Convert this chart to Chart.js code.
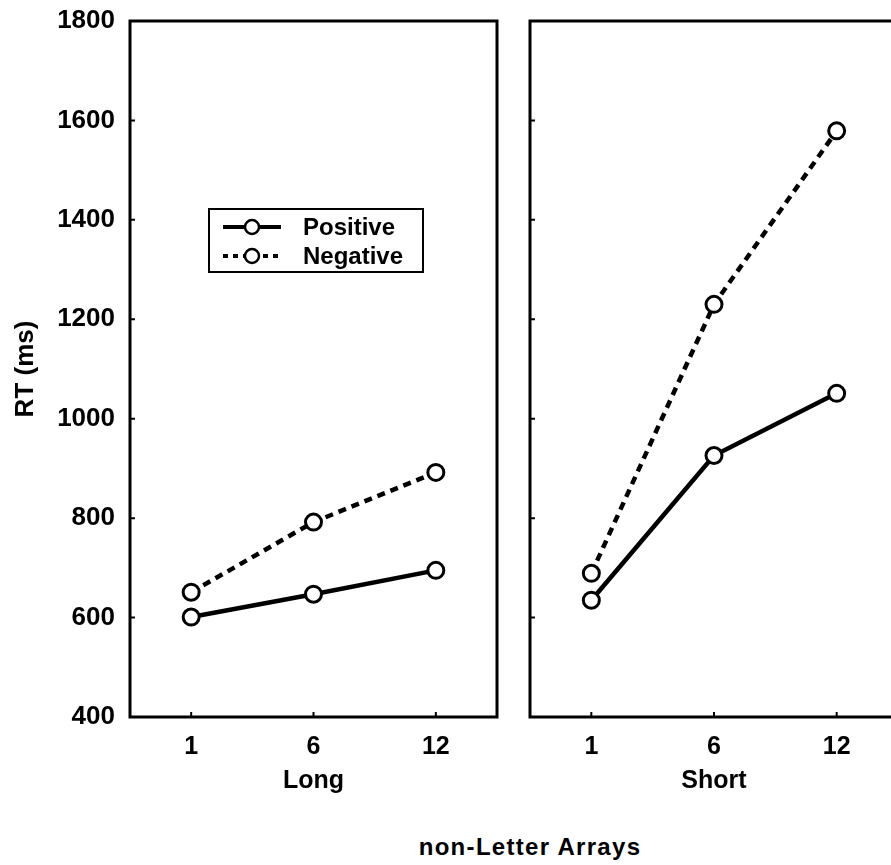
<!DOCTYPE html>
<html>
<head>
<meta charset="utf-8">
<script src="https://cdn.jsdelivr.net/npm/chart.js@4.4.1/dist/chart.umd.min.js"></script>
<style>
    html, body { margin: 0; padding: 0; background: #fff; overflow: hidden; }
    #wrap { position: relative; width: 891px; height: 865px; overflow: hidden; }
    #longCanvas { position: absolute; left: 0; top: 0; width: 500px; height: 796px; }
    #shortCanvas { position: absolute; left: 500px; top: 0; width: 400px; height: 796px; }
    #caption {
        position: absolute; left: 330px; top: 835px; width: 400px;
        text-align: center; font: bold 24px "Liberation Sans", Arial, sans-serif;
        line-height: 24px; letter-spacing: 1.3px; color: #000;
    }
</style>
</head>
<body>
<div id="wrap">
    <canvas id="longCanvas" width="500" height="796"></canvas>
    <canvas id="shortCanvas" width="400" height="796"></canvas>
    <div id="caption">non-Letter Arrays</div>
</div>
<script>
// values
const setSizes = ['1', '6', '12'];
const longPositive = [601, 647, 695];
const longNegative = [651, 792, 892];
const shortPositive = [635, 926, 1051];
const shortNegative = [689, 1230, 1579];
const rtMin = 400;
const rtMax = 1800;
const rtStep = 200;

const FONT = '"Liberation Sans", Arial, sans-serif';

// box round the plot area, with small inward tick marks
const panelFrame = {
    id: 'panelFrame',
    beforeDatasetsDraw(chart) {
        const { ctx, chartArea: a, scales } = chart;
        ctx.save();
        ctx.strokeStyle = '#000';
        ctx.lineWidth = 3;
        ctx.strokeRect(a.left, a.top, a.right - a.left, a.bottom - a.top);
        ctx.lineWidth = 2;
        ctx.beginPath();
        scales.x.ticks.forEach((t, i) => {
            const px = scales.x.getPixelForTick(i);
            ctx.moveTo(px, a.bottom);
            ctx.lineTo(px, a.bottom - 5);
        });
        scales.y.ticks.forEach((t) => {
            const py = scales.y.getPixelForValue(t.value);
            ctx.moveTo(a.left, py);
            ctx.lineTo(a.left + 5, py);
        });
        ctx.stroke();
        ctx.restore();
    }
};

// legend box drawn inside the left panel
const innerLegend = {
    id: 'innerLegend',
    afterDraw(chart) {
        const { ctx, chartArea: a } = chart;
        const x0 = a.left + 79, y0 = a.top + 188, w = 214, h = 63;
        ctx.save();
        ctx.strokeStyle = '#000';
        ctx.lineWidth = 2;
        ctx.strokeRect(x0, y0, w, h);
        chart.data.datasets.forEach((ds, i) => {
            const cy = y0 + 18 + i * 29;
            ctx.lineWidth = 4;
            ctx.setLineDash(ds.borderDash ? [5, 5] : []);
            ctx.beginPath();
            ctx.moveTo(x0 + 14, cy);
            ctx.lineTo(x0 + 72, cy);
            ctx.stroke();
            ctx.setLineDash([]);
            ctx.beginPath();
            ctx.arc(x0 + 43, cy, 7, 0, Math.PI * 2);
            ctx.fillStyle = '#fff';
            ctx.fill();
            ctx.lineWidth = 2.5;
            ctx.stroke();
            ctx.fillStyle = '#000';
            ctx.font = 'bold 24px ' + FONT;
            ctx.textBaseline = 'middle';
            ctx.fillText(ds.label, x0 + 94, cy + 1);
        });
        ctx.restore();
    }
};

function makeDatasets(pos, neg) {
    const common = {
        borderColor: '#000',
        pointBackgroundColor: '#fff',
        pointBorderColor: '#000',
        pointRadius: 8,
        pointBorderWidth: 3,
        fill: false,
        tension: 0
    };
    return [
        Object.assign({ label: 'Positive', data: pos, borderWidth: 4.5 }, common),
        Object.assign({ label: 'Negative', data: neg, borderWidth: 4.5, borderDash: [8, 6] }, common)
    ];
}

function makeChart(canvasId, pos, neg, groupName, showY, yWidth, padRight, plugins) {
    const ctx = document.getElementById(canvasId).getContext('2d');
    return new Chart(ctx, {
        type: 'line',
        data: { labels: setSizes, datasets: makeDatasets(pos, neg) },
        plugins: plugins,
        options: {
            responsive: false,
            animation: false,
            layout: { autoPadding: false, padding: { top: 21, right: padRight, left: 0, bottom: 0 } },
            plugins: { legend: { display: false }, tooltip: { enabled: false } },
            scales: {
                x: {
                    type: 'category',
                    offset: true,
                    grid: { display: false, drawTicks: true, tickLength: 15 },
                    border: { display: false },
                    ticks: { color: '#000', padding: 0, font: { family: FONT, size: 25, weight: 'bold' } },
                    title: {
                        display: true, text: groupName, color: '#000',
                        padding: 0, font: { family: FONT, size: 25, weight: 'bold' }
                    },
                    afterFit: (s) => { s.height = 79; }
                },
                y: {
                    min: rtMin,
                    max: rtMax,
                    grid: { display: false, drawTicks: true, tickLength: 15 },
                    border: { display: false },
                    ticks: {
                        display: showY,
                        stepSize: rtStep,
                        color: '#000',
                        padding: 0,
                        font: { family: FONT, size: 26, weight: 'bold' },
                        callback: (v) => String(v)
                    },
                    title: {
                        display: showY, text: 'RT (ms)', color: '#000',
                        padding: { top: 10, bottom: 0 }, font: { family: FONT, size: 26, weight: 'bold' }
                    },
                    afterFit: (s) => { s.width = yWidth; }
                }
            }
        }
    });
}

makeChart('longCanvas', longPositive, longNegative, 'Long', true, 130, 3, [panelFrame, innerLegend]);
makeChart('shortCanvas', shortPositive, shortNegative, 'Short', false, 30, 2, [panelFrame]);
</script>
</body>
</html>
